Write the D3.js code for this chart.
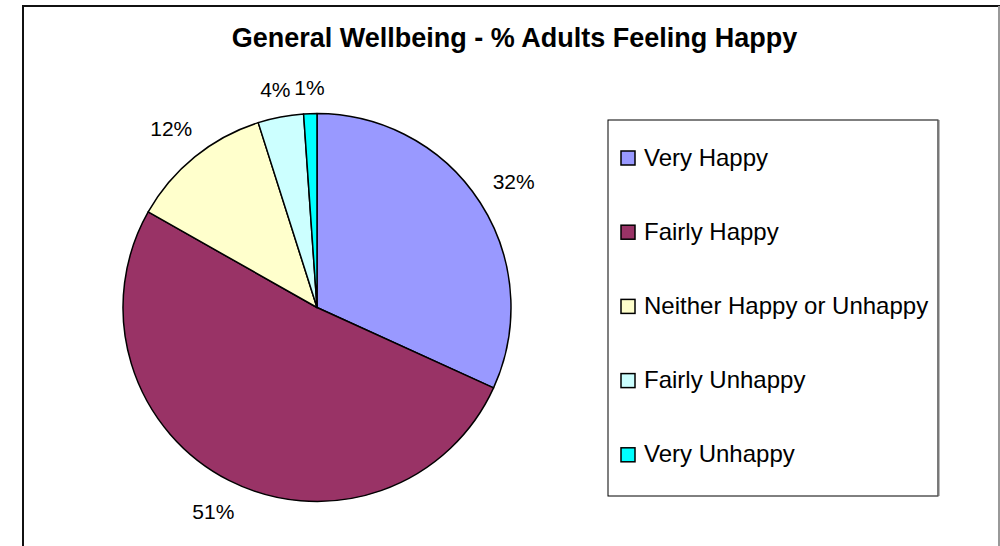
<!DOCTYPE html>
<html>
<head>
<meta charset="utf-8">
<script src="https://cdn.jsdelivr.net/npm/d3@7"></script>
<style>
  body { margin: 0; background: #fff; }
  text { font-family: "Liberation Sans", Arial, sans-serif; }
</style>
</head>
<body>
<div id="vis-container"></div>
<script>
// chart size
const width = 1000;
const height = 546;

// data
const categories = ["Very Happy", "Fairly Happy", "Neither Happy or Unhappy", "Fairly Unhappy", "Very Unhappy"];
const values = [31.8, 51.4, 11.9, 3.8, 1.1];
const colors = ["#9999FF", "#993366", "#FFFFCC", "#CCFFFF", "#00FFFF"];
const title = "General Wellbeing - % Adults Feeling Happy";

const cx = 317, cy = 307.5, radius = 194;

const svg = d3.select("#vis-container")
  .append("svg")
  .attr("width", width)
  .attr("height", height);

// outer chart frame
svg.append("rect")
  .attr("x", 23).attr("y", 6)
  .attr("width", 976).attr("height", 560)
  .attr("fill", "#fff")
  .attr("stroke", "#111")
  .attr("stroke-width", 2);
svg.append("line")
  .attr("x1", 999).attr("x2", 999).attr("y1", 6).attr("y2", 546)
  .attr("stroke", "#999").attr("stroke-width", 2);

// title
svg.append("text")
  .attr("x", 514.5).attr("y", 47)
  .attr("text-anchor", "middle")
  .attr("font-size", "27px")
  .attr("font-weight", "bold")
  .attr("fill", "#000")
  .text(title);

// pie
const pie = d3.pie().sort(null).value(d => d);
const arcs = pie(values);
const arc = d3.arc().innerRadius(0).outerRadius(radius);

const g = svg.append("g").attr("transform", `translate(${cx},${cy})`);

g.selectAll(".slice")
  .data(arcs)
  .enter()
  .append("path")
  .attr("class", "slice")
  .attr("d", arc)
  .attr("fill", (d, i) => colors[i])
  .attr("stroke", "#000")
  .attr("stroke-width", 1.5)
  .attr("stroke-linejoin", "round");

// percentage labels outside the slices
const capH = 15.5;
g.selectAll(".lbl")
  .data(arcs)
  .enter()
  .append("text")
  .attr("class", "lbl")
  .attr("font-size", "21px")
  .attr("fill", "#000")
  .attr("text-anchor", "middle")
  .text(d => Math.round(d.data) + "%")
  .each(function(d) {
    const w = this.getBBox().width;
    const a = (d.startAngle + d.endAngle) / 2;
    const sx = Math.sin(a), sy = -Math.cos(a);
    const ext = Math.abs(sx) * w / 2 + Math.abs(sy) * capH / 2;
    const dist = radius + 18 + ext;
    d3.select(this)
      .attr("x", sx * dist)
      .attr("y", sy * dist + capH / 2);
  });

// legend
const legend = svg.append("g");
legend.append("rect")
  .attr("x", 608).attr("y", 120)
  .attr("width", 330).attr("height", 376)
  .attr("fill", "#fff")
  .attr("stroke", "#000")
  .attr("stroke-width", 1);
legend.append("line")
  .attr("x1", 938.5).attr("x2", 938.5).attr("y1", 120).attr("y2", 496)
  .attr("stroke", "#777").attr("stroke-width", 2);

const legendY = d3.scalePoint()
  .domain(categories)
  .range([158, 454.8]);

const items = legend.selectAll(".item")
  .data(categories)
  .enter()
  .append("g")
  .attr("class", "item")
  .attr("transform", d => `translate(0,${legendY(d)})`);

items.append("rect")
  .attr("x", 621).attr("y", -7)
  .attr("width", 14).attr("height", 14)
  .attr("fill", (d, i) => colors[i])
  .attr("stroke", "#000")
  .attr("stroke-width", 1.5);

items.append("text")
  .attr("x", 644).attr("y", 7.5)
  .attr("font-size", "24px")
  .attr("fill", "#000")
  .text(d => d);
</script>
</body>
</html>
